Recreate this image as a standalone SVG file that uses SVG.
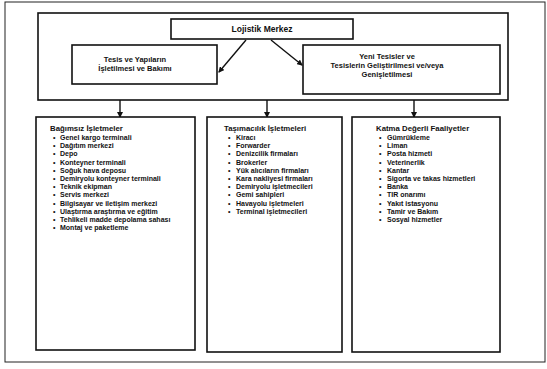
<svg xmlns="http://www.w3.org/2000/svg" width="547" height="369" viewBox="0 0 547 369">
<style>
.frame{fill:none;stroke:#222;stroke-width:1}
.box{fill:#fff;stroke:#111;stroke-width:1.6}
.con{fill:none;stroke:#111;stroke-width:1.4}
.t{font-family:"Liberation Sans",Arial,sans-serif;font-weight:bold;fill:#111}
.title{font-size:8.5px;text-anchor:middle}
.sub{font-size:7.5px;text-anchor:middle}
.hd{font-size:7.8px}
.it{font-size:7px}
</style>
<defs>
<marker id="ah" markerWidth="6" markerHeight="6" refX="5" refY="3" orient="auto" markerUnits="userSpaceOnUse">
<path d="M0,0 L6,3 L0,6 z" fill="#111"/>
</marker>
</defs>
<rect class="frame" x="5" y="2" width="540" height="360"/>
<g id="main-frame"><rect class="box" x="38" y="13" width="470" height="87"/></g>
<g id="lojistik-merkez">
<rect class="box" x="171" y="19" width="182" height="20"/>
<text class="t title" x="262" y="32">Lojistik Merkez</text>
</g>
<g id="tesis-isletme">
<rect class="box" x="72" y="45" width="145" height="39"/>
<text class="t sub" x="135" y="62">Tesis ve Yapıların</text>
<text class="t sub" x="135" y="71">İşletilmesi ve Bakımı</text>
</g>
<g id="yeni-tesisler">
<rect class="box" x="303" y="45" width="197" height="49"/>
<text class="t sub" x="387" y="59">Yeni Tesisler ve</text>
<text class="t sub" x="387" y="68">Tesislerin Geliştirilmesi ve/veya</text>
<text class="t sub" x="387" y="77">Genişletilmesi</text>
</g>
<g id="connectors">
<line class="con" x1="246" y1="40" x2="219" y2="72" marker-end="url(#ah)"/>
<line class="con" x1="271" y1="40" x2="302" y2="65" marker-end="url(#ah)"/>
<line class="con" x1="120" y1="100" x2="120" y2="117" marker-end="url(#ah)"/>
<line class="con" x1="267" y1="100" x2="267" y2="117" marker-end="url(#ah)"/>
<line class="con" x1="414" y1="100" x2="414" y2="117" marker-end="url(#ah)"/>
</g>
<g id="bagimsiz-isletmeler">
<rect class="box" x="36" y="117" width="159" height="233"/>
<text class="t hd" x="50" y="131">Bağımsız İşletmeler</text>
<g class="t it">
<text x="53" y="140">•</text><text x="60" y="140">Genel kargo terminali</text>
<text x="53" y="148.2">•</text><text x="60" y="148.2">Dağıtım merkezi</text>
<text x="53" y="156.4">•</text><text x="60" y="156.4">Depo</text>
<text x="53" y="164.6">•</text><text x="60" y="164.6">Konteyner terminali</text>
<text x="53" y="172.8">•</text><text x="60" y="172.8">Soğuk hava deposu</text>
<text x="53" y="181">•</text><text x="60" y="181">Demiryolu konteyner terminali</text>
<text x="53" y="189.2">•</text><text x="60" y="189.2">Teknik ekipman</text>
<text x="53" y="197.4">•</text><text x="60" y="197.4">Servis merkezi</text>
<text x="53" y="205.6">•</text><text x="60" y="205.6">Bilgisayar ve iletişim merkezi</text>
<text x="53" y="213.8">•</text><text x="60" y="213.8">Ulaştırma araştırma ve eğitim</text>
<text x="53" y="222">•</text><text x="60" y="222">Tehlikeli madde depolama sahası</text>
<text x="53" y="230.2">•</text><text x="60" y="230.2">Montaj ve paketleme</text>
</g>
</g>
<g id="tasimacilik-isletmeleri">
<rect class="box" x="207" y="117" width="135" height="235"/>
<text class="t hd" x="224" y="131">Taşımacılık İşletmeleri</text>
<g class="t it">
<text x="228" y="140">•</text><text x="236" y="140">Kiracı</text>
<text x="228" y="148.2">•</text><text x="236" y="148.2">Forwarder</text>
<text x="228" y="156.4">•</text><text x="236" y="156.4">Denizcilik firmaları</text>
<text x="228" y="164.6">•</text><text x="236" y="164.6">Brokerler</text>
<text x="228" y="172.8">•</text><text x="236" y="172.8">Yük alıcıların firmaları</text>
<text x="228" y="181">•</text><text x="236" y="181">Kara nakliyesi firmaları</text>
<text x="228" y="189.2">•</text><text x="236" y="189.2">Demiryolu işletmecileri</text>
<text x="228" y="197.4">•</text><text x="236" y="197.4">Gemi sahipleri</text>
<text x="228" y="205.6">•</text><text x="236" y="205.6">Havayolu işletmeleri</text>
<text x="228" y="213.8">•</text><text x="236" y="213.8">Terminal işletmecileri</text>
</g>
</g>
<g id="katma-degerli-faaliyetler">
<rect class="box" x="352" y="117" width="148" height="235"/>
<text class="t hd" x="376" y="131">Katma Değerli Faaliyetler</text>
<g class="t it">
<text x="379" y="140">•</text><text x="387" y="140">Gümrükleme</text>
<text x="379" y="148.2">•</text><text x="387" y="148.2">Liman</text>
<text x="379" y="156.4">•</text><text x="387" y="156.4">Posta hizmeti</text>
<text x="379" y="164.6">•</text><text x="387" y="164.6">Veterinerlik</text>
<text x="379" y="172.8">•</text><text x="387" y="172.8">Kantar</text>
<text x="379" y="181">•</text><text x="387" y="181">Sigorta ve takas hizmetleri</text>
<text x="379" y="189.2">•</text><text x="387" y="189.2">Banka</text>
<text x="379" y="197.4">•</text><text x="387" y="197.4">TIR onarımı</text>
<text x="379" y="205.6">•</text><text x="387" y="205.6">Yakıt istasyonu</text>
<text x="379" y="213.8">•</text><text x="387" y="213.8">Tamir ve Bakım</text>
<text x="379" y="222">•</text><text x="387" y="222">Sosyal hizmetler</text>
</g>
</g>
</svg>
